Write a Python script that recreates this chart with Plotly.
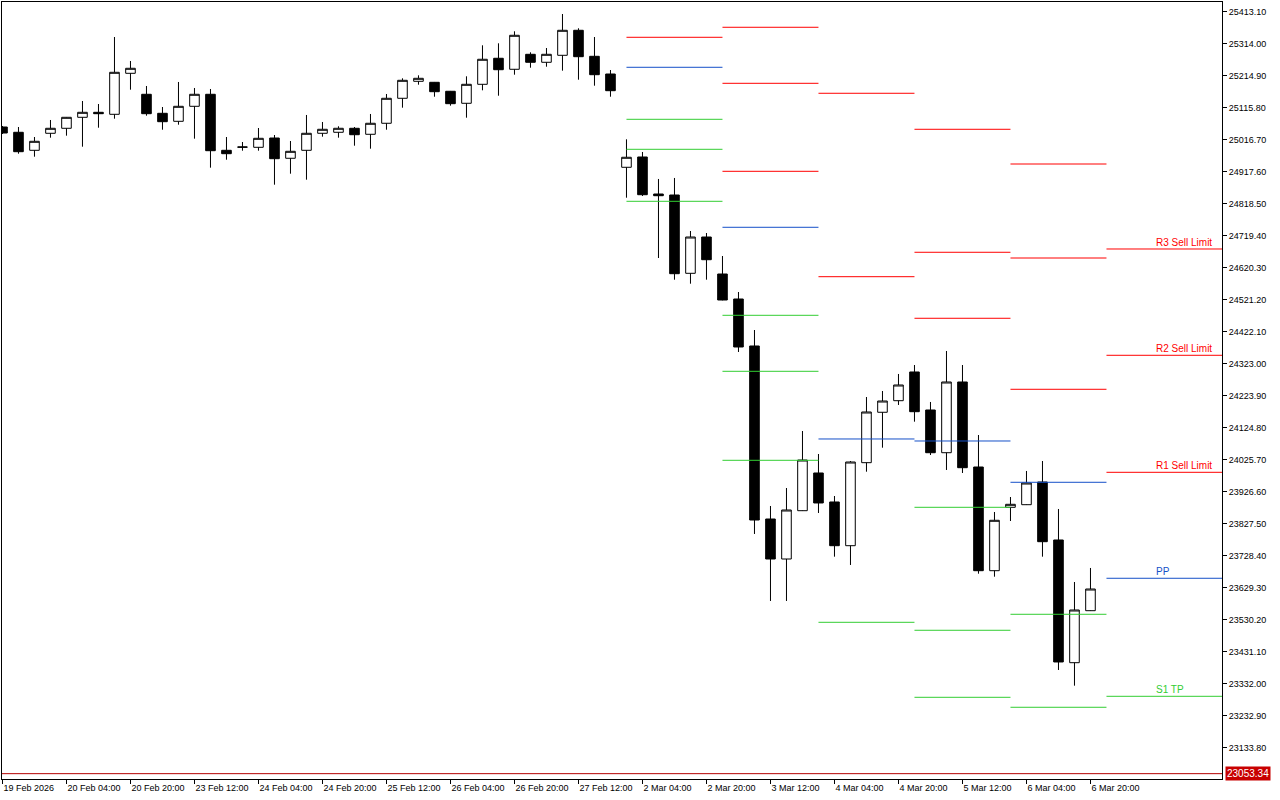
import plotly.graph_objects as go

# ---- H4 bars, 19 Feb 2026 12:00 ... 6 Mar 2026 20:00 (bar index on x) ----
opens = [25056.0, 25039.6, 24983.8, 25036.5, 25052.0, 25086.0, 25101.5, 25095.3, 25222.3, 25157.3,
         25098.4, 25073.6, 25120.1, 25157.3, 24983.8, 24994.1, 24993.1, 25021.9, 24959.1, 24983.8,
         25036.5, 25039.6, 25052.0, 25033.4, 25067.5, 25144.9, 25197.5, 25194.4, 25166.6, 25129.4,
         25188.2, 25268.8, 25234.7, 25281.1, 25256.4, 25278.0, 25355.5, 25274.9, 25220.1, 24931.2,
         24963.1, 24848.5, 24845.4, 24602.9, 24715.3, 24600.7, 24523.3, 24377.8, 23842.0, 23718.1,
         23867.7, 23984.5, 23894.7, 23759.3, 24016.4, 24172.5, 24208.4, 24297.3, 24179.6, 24047.3,
         24266.3, 24003.0, 23681.9, 23878.2, 23886.3, 23956.6, 23777.0, 23397.0, 23558.0]
highs = [25059.1, 25056.0, 25025.0, 25077.7, 25087.0, 25136.5, 25127.2, 25334.7, 25260.4, 25183.0,
         25117.9, 25195.4, 25176.8, 25173.7, 25025.0, 25009.5, 25052.9, 25031.2, 25012.6, 25093.2,
         25071.5, 25058.2, 25056.0, 25096.3, 25158.2, 25206.8, 25216.1, 25195.4, 25167.6, 25213.0,
         25309.0, 25315.2, 25352.4, 25287.3, 25300.6, 25405.9, 25361.7, 25334.7, 25232.5, 25017.9,
         24978.6, 24895.0, 24898.1, 24733.9, 24727.7, 24656.5, 24545.0, 24427.3, 23882.3, 23938.0,
         24114.5, 24043.3, 23913.2, 24021.6, 24219.8, 24238.4, 24291.1, 24318.9, 24204.4, 24362.3,
         24318.9, 24102.1, 23863.7, 23910.1, 23990.7, 24021.6, 23873.0, 23646.9, 23690.3]
lows = [25034.3, 24973.3, 24964.0, 25022.9, 25029.1, 24995.0, 25053.8, 25081.7, 25171.5, 25091.0,
        25047.6, 25063.1, 25019.8, 24930.0, 24954.7, 24982.6, 24982.6, 24877.3, 24911.4, 24892.8,
        25026.0, 25022.9, 24998.1, 24988.8, 25047.6, 25115.8, 25187.0, 25149.8, 25122.0, 25084.8,
        25169.6, 25152.9, 25218.0, 25239.6, 25242.7, 25230.4, 25202.5, 25183.9, 25149.8, 24837.0,
        24842.3, 24650.3, 24583.1, 24570.7, 24583.1, 24519.2, 24359.2, 23795.6, 23588.1, 23588.1,
        23866.7, 23860.6, 23725.3, 23699.6, 23988.5, 24062.8, 24195.1, 24143.4, 24040.2, 23993.8,
        23984.5, 23672.6, 23663.3, 23835.8, 23885.3, 23725.3, 23374.4, 23325.8, 23557.0]
closes = [25037.4, 24979.5, 25011.7, 25052.0, 25086.0, 25101.5, 25097.2, 25225.4, 25237.8, 25097.2,
          25072.4, 25120.1, 25157.3, 24982.6, 24973.3, 24993.6, 25021.0, 24957.8, 24980.7, 25036.5,
          25048.9, 25052.0, 25032.1, 25067.5, 25144.9, 25200.6, 25206.8, 25165.3, 25128.2, 25188.2,
          25265.7, 25233.4, 25340.0, 25256.4, 25281.1, 25355.5, 25273.7, 25218.0, 25168.4, 24962.2,
          24846.3, 24843.2, 24601.7, 24715.3, 24645.0, 24520.2, 24374.7, 23838.9, 23718.1, 23869.9,
          24024.7, 23891.6, 23759.3, 24018.5, 24173.4, 24207.4, 24257.0, 24174.3, 24047.3, 24266.3,
          24000.9, 23681.9, 23838.0, 23887.5, 23953.5, 23771.7, 23399.2, 23560.2, 23625.2]

tick_idx = [0, 4, 8, 12, 16, 20, 24, 28, 32, 36, 40, 44, 48, 52, 56, 60, 64, 68]
tick_text = ["19 Feb 2026", "20 Feb 04:00", "20 Feb 20:00", "23 Feb 12:00", "24 Feb 04:00",
             "24 Feb 20:00", "25 Feb 12:00", "26 Feb 04:00", "26 Feb 20:00", "27 Feb 12:00",
             "2 Mar 04:00", "2 Mar 20:00", "3 Mar 12:00", "4 Mar 04:00", "4 Mar 20:00",
             "5 Mar 12:00", "6 Mar 04:00", "6 Mar 20:00"]

price_ticks = [25413.10, 25314.00, 25214.90, 25115.80, 25016.70, 24917.60, 24818.50, 24719.40,
               24620.30, 24521.20, 24422.10, 24323.00, 24223.90, 24124.80, 24025.70, 23926.60,
               23827.50, 23728.40, 23629.30, 23530.20, 23431.10, 23332.00, 23232.90, 23133.80]

# ---- daily pivot levels (segment start / end bar index) ----
day_start = [39, 45, 51, 57, 63, 69]
day_end = [45, 51, 57, 63, 69, 80]
R3 = [None, 25364.8, None, 25048.9, 24941.4, 24678.2]
R2 = [None, 25191.3, 25160.4, 24668.0, 24650.3, 24349.0]
R1 = [25333.8, 24918.8, 24592.4, 24463.6, 24243.7, 23986.6]
PP = [25240.9, 24745.4, 24089.8, 24083.6, 23955.7, 23658.4]
S1 = [25079.8, 24472.8, 23522.1, 23878.2, 23546.9, 23292.9]
S2 = [24986.9, 24299.4, None, 23497.4, 23258.9, None]
S3 = [24825.9, 24023.8, None, 23289.8, None, None]

last_labels = {"R3": "R3 Sell Limit", "R2": "R2 Sell Limit", "R1": "R1 Sell Limit",
               "PP": "PP", "S1": "S1 TP"}
current_price = 23053.34

RED = "#FF0000"
BLUE = "#1550C8"
GREEN = "#32CD32"
FONT = "Liberation Sans"

idx = list(range(len(opens)))

fig = go.Figure()
fig.add_trace(go.Candlestick(
    x=idx, open=opens, high=highs, low=lows, close=closes,
    increasing=dict(line=dict(color="black", width=1), fillcolor="white"),
    decreasing=dict(line=dict(color="black", width=1), fillcolor="black"),
    whiskerwidth=0, showlegend=False, hoverinfo="skip"))


def seg_xy(levels):
    xs, ys = [], []
    for s, e, v in zip(day_start, day_end, levels):
        if v is None:
            continue
        xs += [s, e, None]
        ys += [v, v, None]
    return xs, ys


for levels, color in [(R3, RED), (R2, RED), (R1, RED), (PP, BLUE), (S1, GREEN), (S2, GREEN), (S3, GREEN)]:
    xs, ys = seg_xy(levels)
    fig.add_trace(go.Scatter(x=xs, y=ys, mode="lines", line=dict(color=color, width=1),
                             showlegend=False, hoverinfo="skip"))

# current price line
fig.add_trace(go.Scatter(x=[-5, 90], y=[current_price, current_price], mode="lines",
                         line=dict(color="#B40000", width=1), showlegend=False, hoverinfo="skip"))

annotations = []
level_map = {"R3": (R3, RED), "R2": (R2, RED), "R1": (R1, RED), "PP": (PP, BLUE), "S1": (S1, GREEN)}
for key, text in last_labels.items():
    levels, color = level_map[key]
    annotations.append(dict(x=day_start[-1] + 3, y=levels[-1], xref="x", yref="y", text=text,
                            showarrow=False, xanchor="left", yanchor="bottom", yshift=-1,
                            font=dict(family=FONT, size=10, color=color)))
annotations.append(dict(x=1, y=current_price, xref="paper", yref="y", text=f"{current_price:.2f}",
                        showarrow=False, xanchor="left", yanchor="middle", xshift=3,
                        bgcolor="#C80000", borderpad=1,
                        font=dict(family=FONT, size=10, color="white")))

fig.update_layout(
    width=1280, height=800,
    margin=dict(l=2, r=58, t=2, b=21),
    paper_bgcolor="white", plot_bgcolor="white",
    showlegend=False, boxgap=0.4, boxgroupgap=0,
    annotations=annotations,
    xaxis=dict(range=[-0.03, 76.22], tickmode="array", tickvals=tick_idx, ticktext=tick_text,
               ticks="outside", ticklen=4, tickcolor="black", ticklabelposition="outside right",
               showgrid=False, zeroline=False, showline=True, linecolor="black", linewidth=1,
               mirror=True, rangeslider=dict(visible=False),
               tickfont=dict(family=FONT, size=9, color="black")),
    yaxis=dict(range=[23036.8, 25443.1], side="right", tickmode="array", tickvals=price_ticks,
               ticktext=[f"{v:.2f}" for v in price_ticks], ticks="outside", ticklen=4,
               tickcolor="black", showgrid=False, zeroline=False, showline=True,
               linecolor="black", linewidth=1, mirror=True,
               tickfont=dict(family=FONT, size=9, color="black")),
)

fig.write_html("out.html", config={"displayModeBar": False},
               post_script="document.body.style.margin='0';document.body.style.overflow='hidden';")
